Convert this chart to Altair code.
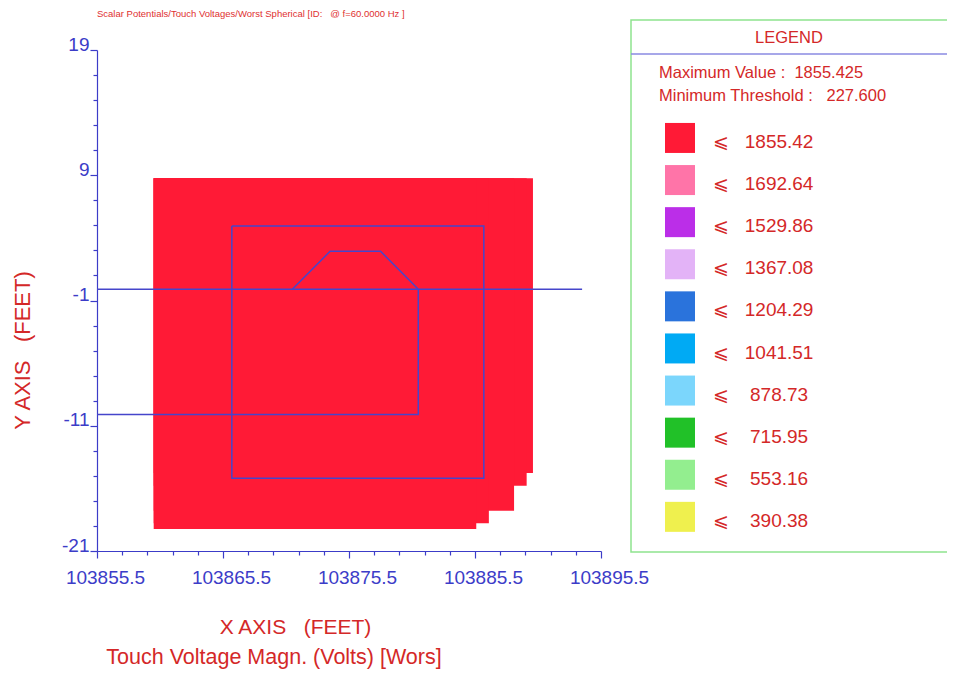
import altair as alt
import pandas as pd

# ---- data ----
levels = ["1855.42", "1692.64", "1529.86", "1367.08", "1204.29",
          "1041.51", "878.73", "715.95", "553.16", "390.38"]
level_colors = ["#FF1A36", "#FF74A8", "#BB2EE8", "#E3B3F7", "#2A73DC",
                "#00AAF4", "#7BD6FC", "#21C128", "#93EE8F", "#EFF04E"]

# touch-voltage region: nested rectangles sharing the top-left corner,
# giving the stepped lower-right edge
strip_x1 = [103860.0, 103860.0, 103860.0, 103860.0, 103860.0]
strip_x2 = [103890.1, 103889.6, 103888.6, 103886.6, 103885.6]
strip_y1 = [8.76, 8.76, 8.76, 8.76, 8.76]
strip_y2 = [-14.77, -15.79, -17.78, -18.79, -19.25]
strip_level = ["1855.42"] * 5

# grid conductors (polylines)
line_id = ["h1", "h1",
           "h2", "h2", "h2",
           "trap", "trap", "trap", "trap",
           "sq", "sq", "sq", "sq", "sq"]
line_x = [103855.5, 103894.0,
          103855.5, 103881.0, 103881.0,
          103871.0, 103874.0, 103878.0, 103881.0,
          103866.2, 103886.2, 103886.2, 103866.2, 103866.2]
line_y = [-0.1, -0.1,
          -10.1, -10.1, -0.1,
          -0.1, 2.93, 2.93, -0.1,
          4.95, 4.95, -15.2, -15.2, 4.95]

x_ticks = [103855.5 + 2 * i for i in range(21)]
y_ticks = [-21 + 2 * i for i in range(21)]

title_text = "Scalar Potentials/Touch Voltages/Worst Spherical [ID:\u00a0\u00a0\u00a0@ f=60.0000 Hz ]"
max_text = "Maximum Value :\u00a0\u00a01855.425"
min_text = "Minimum Threshold :\u00a0\u00a0\u00a0227.600"
bottom_text = "Touch Voltage Magn. (Volts) [Wors]"

# ---- styles ----
RED = "#D42828"
BLUE = "#3C3CC8"
LINE = "#4646CB"
FONT = "Liberation Sans"

strips = pd.DataFrame({"x1": strip_x1, "x2": strip_x2, "y1": strip_y1,
                       "y2": strip_y2, "level": strip_level})
lines = pd.DataFrame({"id": line_id, "x": line_x, "y": line_y,
                      "order": list(range(len(line_x)))})
one = pd.DataFrame({"a": [0]})

xscale = alt.Scale(domain=[103855.5, 103895.5], nice=False, zero=False)
yscale = alt.Scale(domain=[-21, 19], nice=False, zero=False)

x_axis = alt.Axis(
    values=x_ticks, tickCount=50, format=".1f", grid=False,
    labelExpr="(datum.value - 103855.5) % 10 == 0 ? datum.label : ''",
    tickSize={"condition": {"test": "(datum.value - 103855.5) % 10 == 0", "value": 7}, "value": 4},
    labelOffset=8, labelPadding=10, labelOverlap=False, labelFlush=False, labelBound=False,
    title="X AXIS\u00a0\u00a0\u00a0(FEET)", titleX=198, titleY=76,
    titleAlign="center", titleBaseline="middle", titleAnchor="start",
)
y_axis = alt.Axis(
    values=y_ticks, tickCount=50, grid=False,
    labelExpr="(datum.value + 1) % 10 == 0 ? '' + datum.value : ''",
    tickSize={"condition": {"test": "(datum.value + 1) % 10 == 0", "value": 7}, "value": 4},
    labelPadding=1, labelBaseline="alphabetic", labelOverlap=False,
    labelFlush=False, labelBound=False,
    title="Y AXIS\u00a0\u00a0\u00a0(FEET)", titleX=-75, titleY=300,
    titleAlign="center", titleBaseline="middle", titleAngle=-90, titleAnchor="start",
    titleFontSize=22,
)

legend = alt.Legend(
    orient="none", legendX=568, legendY=77, title=None, padding=0,
    symbolType="M-1,-1.27H1V0.73H-1Z", symbolSize=900, symbolStrokeWidth=0, symbolOpacity=1,
    labelFont=FONT + ", DejaVu Sans", labelFontSize=19, labelColor=RED,
    labelOffset=18, rowPadding=11.1, labelLimit=0,
    labelExpr="'\u2a7d\u00a0\u00a0\u00a0' + (length(datum.label) < 7 ? '\u00a0' : '') + datum.label",
)

region = alt.Chart(strips).mark_rect(strokeWidth=0).encode(
    x=alt.X("x1:Q", scale=xscale, axis=x_axis),
    x2="x2:Q",
    y=alt.Y("y1:Q", scale=yscale, axis=y_axis),
    y2="y2:Q",
    color=alt.Color("level:N", scale=alt.Scale(domain=levels, range=level_colors),
                    legend=legend),
)

conductors = alt.Chart(lines).mark_line(color=LINE, strokeWidth=1.5).encode(
    x=alt.X("x:Q", scale=xscale),
    y=alt.Y("y:Q", scale=yscale),
    detail="id:N",
    order="order:Q",
)

legend_box = alt.Chart(one).mark_rect(fill=None, stroke="#8FE38F", strokeWidth=1.5).encode(
    x=alt.value(534), x2=alt.value(870), y=alt.value(-30), y2=alt.value(502))
legend_sep = alt.Chart(one).mark_rule(color="#8A8AE2", strokeWidth=1.5).encode(
    x=alt.value(534), x2=alt.value(870), y=alt.value(4))
legend_head = alt.Chart(one).mark_text(
    text="LEGEND", font=FONT, fontSize=16.5, color=RED, align="center", baseline="middle"
).encode(x=alt.value(692), y=alt.value(-12))
max_lbl = alt.Chart(one).mark_text(
    text=max_text, font=FONT, fontSize=16.5, color=RED, align="left", baseline="middle"
).encode(x=alt.value(562), y=alt.value(23))
min_lbl = alt.Chart(one).mark_text(
    text=min_text, font=FONT, fontSize=16.5, color=RED, align="left", baseline="middle"
).encode(x=alt.value(562), y=alt.value(46))
top_title = alt.Chart(one).mark_text(
    text=title_text, font=FONT, fontSize=9.5,
    color="#E03030", align="left", baseline="middle"
).encode(x=alt.value(0), y=alt.value(-36))
bottom_title = alt.Chart(one).mark_text(
    text=bottom_text, font=FONT, fontSize=21.5, color=RED, align="center", baseline="middle"
).encode(x=alt.value(177), y=alt.value(608))

chart = alt.layer(
    region, conductors, legend_box, legend_sep, legend_head, max_lbl, min_lbl,
    top_title, bottom_title
).properties(
    width=504, height=501,
    autosize=alt.AutoSizeParams(type="none"),
    padding={"left": 89, "top": 42, "right": 346, "bottom": 119},
).configure_view(
    stroke=None
).configure_axis(
    domainColor=BLUE, domainWidth=1.2, tickColor=BLUE, tickWidth=1.2,
    labelColor=BLUE, labelFont=FONT, labelFontSize=19,
    titleColor=RED, titleFont=FONT, titleFontSize=21, titleFontWeight="normal",
)

chart.save("out.html", embed_options={"renderer": "svg", "actions": False})
